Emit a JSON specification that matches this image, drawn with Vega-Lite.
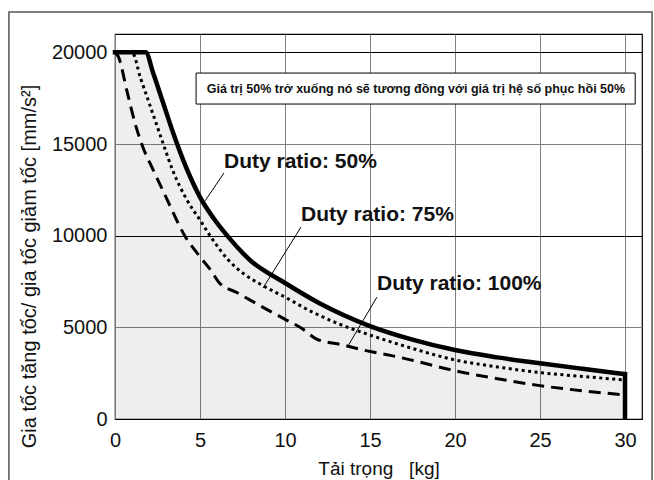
{
  "$schema": "https://vega.github.io/schema/vega-lite/v6.json",
  "width": 527,
  "height": 385,
  "autosize": "none",
  "padding": {"left": 115, "top": 34, "right": 12, "bottom": 61},
  "background": "white",
  "config": {"view": {"stroke": "black", "strokeWidth": 1.2}, "font": "Liberation Sans"},
  "datasets": {
    "curves": [
      {"s": "50%", "x": 0, "y": 20000}, {"s": "50%", "x": 1.8, "y": 20000}, {"s": "50%", "x": 2.25, "y": 18860},
      {"s": "50%", "x": 2.84, "y": 17220}, {"s": "50%", "x": 3.43, "y": 15580}, {"s": "50%", "x": 4.0, "y": 14150},
      {"s": "50%", "x": 4.5, "y": 13050}, {"s": "50%", "x": 5, "y": 12100}, {"s": "50%", "x": 5.8, "y": 10950},
      {"s": "50%", "x": 6.6, "y": 10000}, {"s": "50%", "x": 8, "y": 8620}, {"s": "50%", "x": 10, "y": 7420},
      {"s": "50%", "x": 12, "y": 6330}, {"s": "50%", "x": 15, "y": 5070},
      {"s": "50%", "x": 17.5, "y": 4330}, {"s": "50%", "x": 20, "y": 3760}, {"s": "50%", "x": 22.5, "y": 3360},
      {"s": "50%", "x": 25, "y": 3040}, {"s": "50%", "x": 27.5, "y": 2740}, {"s": "50%", "x": 30, "y": 2450},
      {"s": "75%", "x": 0, "y": 20000}, {"s": "75%", "x": 1.0, "y": 20000}, {"s": "75%", "x": 1.5, "y": 18600},
      {"s": "75%", "x": 2.06, "y": 17100}, {"s": "75%", "x": 2.84, "y": 15000}, {"s": "75%", "x": 3.4, "y": 13550},
      {"s": "75%", "x": 4.2, "y": 12000}, {"s": "75%", "x": 5, "y": 10850}, {"s": "75%", "x": 5.59, "y": 10000},
      {"s": "75%", "x": 6.67, "y": 8670}, {"s": "75%", "x": 7.6, "y": 7900}, {"s": "75%", "x": 8.63, "y": 7310},
      {"s": "75%", "x": 10, "y": 6650}, {"s": "75%", "x": 11.57, "y": 5850}, {"s": "75%", "x": 13, "y": 5250},
      {"s": "75%", "x": 15, "y": 4580}, {"s": "75%", "x": 17.5, "y": 3850}, {"s": "75%", "x": 20, "y": 3220},
      {"s": "75%", "x": 22.5, "y": 2840}, {"s": "75%", "x": 25, "y": 2530}, {"s": "75%", "x": 27.5, "y": 2320},
      {"s": "75%", "x": 30, "y": 2130},
      {"s": "100%", "x": 0, "y": 20000}, {"s": "100%", "x": 0.2, "y": 19760}, {"s": "100%", "x": 0.7, "y": 17900},
      {"s": "100%", "x": 1.18, "y": 16130}, {"s": "100%", "x": 1.57, "y": 15000}, {"s": "100%", "x": 2.25, "y": 13580},
      {"s": "100%", "x": 3, "y": 12100}, {"s": "100%", "x": 4.1, "y": 10000}, {"s": "100%", "x": 5, "y": 8850},
      {"s": "100%", "x": 5.69, "y": 8040}, {"s": "100%", "x": 6.08, "y": 7490}, {"s": "100%", "x": 7.25, "y": 6860},
      {"s": "100%", "x": 8.63, "y": 6130}, {"s": "100%", "x": 9.9, "y": 5490}, {"s": "100%", "x": 10.98, "y": 4950},
      {"s": "100%", "x": 11.86, "y": 4360}, {"s": "100%", "x": 13.4, "y": 4040}, {"s": "100%", "x": 15, "y": 3680},
      {"s": "100%", "x": 16.2, "y": 3470}, {"s": "100%", "x": 17.5, "y": 3200}, {"s": "100%", "x": 20, "y": 2630},
      {"s": "100%", "x": 22.5, "y": 2200}, {"s": "100%", "x": 25, "y": 1820}, {"s": "100%", "x": 27.5, "y": 1540},
      {"s": "100%", "x": 30, "y": 1310}
    ],
    "drop": [{"x": 30, "y": 2450, "y2": 0}],
    "note": [
      {"x": 4.77, "x2": 30.6, "y": 18870, "y2": 17180, "tx": 17.7, "ty": 18025, "label": "Giá trị 50% trở xuống nó sẽ tương đồng với giá trị hệ số phục hồi 50%"}
    ],
    "labels": [
      {"x": 6.41, "y": 14020, "label": "Duty ratio: 50%"},
      {"x": 10.94, "y": 11130, "label": "Duty ratio: 75%"},
      {"x": 15.41, "y": 7360, "label": "Duty ratio: 100%"}
    ],
    "leaders": [
      {"x": 6.41, "y": 13420, "x2": 5.3, "y2": 11900},
      {"x": 10.94, "y": 10470, "x2": 8.71, "y2": 7150},
      {"x": 15.41, "y": 6650, "x2": 13.7, "y2": 3980}
    ],
    "frame": [{"x": -6.24, "x2": 31.59, "y": 22200, "y2": -4000}]
  },
  "encoding": {
    "x": {
      "field": "x", "type": "quantitative",
      "scale": {"domain": [0, 31], "nice": false, "zero": false},
      "axis": {
        "values": [0, 5, 10, 15, 20, 25, 30], "grid": true, "gridColor": "#808080", "gridWidth": 1,
        "ticks": false, "domain": false, "labelFontSize": 20, "labelPadding": 11, "labelColor": "#111",
        "labelFlush": false,
        "title": "Tải trọng\u00a0\u00a0\u00a0[kg]", "titleFontSize": 19, "titleFontWeight": "normal",
        "titleColor": "#111", "titlePadding": 9
      }
    },
    "y": {
      "field": "y", "type": "quantitative",
      "scale": {"domain": [0, 21000], "nice": false, "zero": false},
      "axis": {
        "values": [0, 5000, 10000, 15000, 20000], "format": "d", "grid": true,
        "gridColor": {"condition": {"test": "datum.value % 10000 === 0", "value": "black"}, "value": "#808080"},
        "gridWidth": 1, "ticks": false, "domain": false, "labelFontSize": 20, "labelPadding": 8,
        "labelColor": "#111",
        "title": "Gia tốc tăng tốc/ gia tốc giảm tốc [mm/s²]", "titleFontSize": 20,
        "titleFontWeight": "normal", "titleColor": "#111", "titlePadding": 12, "titleY": 232
      }
    }
  },
  "layer": [
    {
      "data": {"name": "curves"},
      "transform": [{"filter": "datum.s === '50%'"}],
      "mark": {"type": "area", "fill": "black", "fillOpacity": 0.065, "interpolate": "monotone"}
    },
    {
      "data": {"name": "curves"},
      "transform": [{"filter": "datum.s === '100%'"}],
      "mark": {"type": "line", "color": "black", "strokeWidth": 3, "strokeDash": [12, 7], "strokeCap": "butt", "interpolate": "monotone"}
    },
    {
      "data": {"name": "curves"},
      "transform": [{"filter": "datum.s === '75%'"}],
      "mark": {"type": "line", "color": "black", "strokeWidth": 3, "strokeDash": [3, 3.5], "strokeCap": "butt", "interpolate": "monotone"}
    },
    {
      "data": {"name": "curves"},
      "transform": [{"filter": "datum.s === '50%'"}],
      "mark": {"type": "line", "color": "black", "strokeWidth": 4.5, "strokeCap": "square", "strokeJoin": "miter", "interpolate": "monotone"}
    },
    {
      "data": {"name": "drop"},
      "mark": {"type": "rule", "color": "black", "strokeWidth": 4.5},
      "encoding": {"y2": {"field": "y2"}}
    },
    {
      "data": {"name": "note"},
      "mark": {"type": "rect", "fill": "white", "stroke": "black", "strokeWidth": 1},
      "encoding": {"x2": {"field": "x2"}, "y2": {"field": "y2"}}
    },
    {
      "data": {"name": "note"},
      "mark": {"type": "text", "font": "Liberation Sans", "fontWeight": "bold", "fontSize": 12.5, "align": "center", "baseline": "middle", "color": "#111"},
      "encoding": {
        "x": {"field": "tx", "type": "quantitative"},
        "y": {"field": "ty", "type": "quantitative"},
        "text": {"field": "label"}
      }
    },
    {
      "data": {"name": "leaders"},
      "mark": {"type": "rule", "color": "black", "strokeWidth": 1},
      "encoding": {"x2": {"field": "x2"}, "y2": {"field": "y2"}}
    },
    {
      "data": {"name": "labels"},
      "mark": {"type": "text", "font": "Liberation Sans", "fontWeight": "bold", "fontSize": 21, "align": "left", "baseline": "middle", "color": "#111"},
      "encoding": {"text": {"field": "label"}}
    },
    {
      "data": {"name": "frame"},
      "mark": {"type": "rect", "fill": "transparent", "stroke": "#555", "strokeWidth": 1.5, "clip": false},
      "encoding": {"x2": {"field": "x2"}, "y2": {"field": "y2"}}
    }
  ]
}
